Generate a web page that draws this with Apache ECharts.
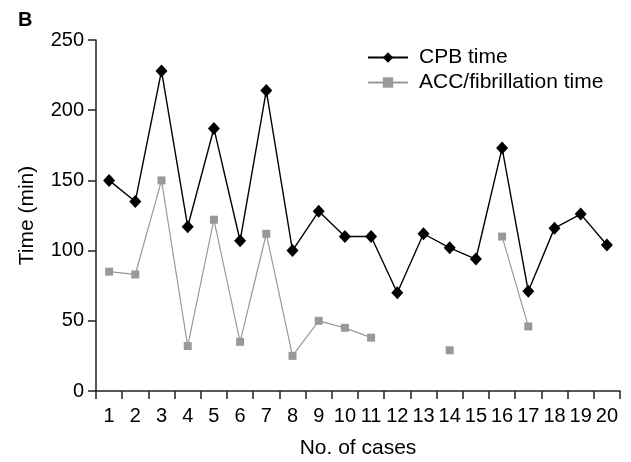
<!DOCTYPE html>
<html><head><meta charset="utf-8">
<script src="https://cdn.jsdelivr.net/npm/echarts@6/dist/echarts.min.js"></script>
<style>html,body{margin:0;padding:0;background:#fff}#c{width:631px;height:462px}</style>
</head><body><div id="c"></div>
<script>
const categories = ['1','2','3','4','5','6','7','8','9','10','11','12','13','14','15','16','17','18','19','20'];
const cpbTime = [150,135,228,117,187,107,214,100,128,110,110,70,112,102,94,173,71,116,126,104];
const accTime = [85,83,150,32,122,35,112,25,50,45,38,null,null,29,null,110,46,null,null,null];
const yTicks = {min:0, max:250, interval:50};

const FONT = 'Liberation Sans, Arial, Helvetica, sans-serif';
const chart = echarts.init(document.getElementById('c'), null, {renderer:'canvas'});
chart.setOption({
  animation:false,
  backgroundColor:'#fff',
  textStyle:{fontFamily:FONT},
  title:{text:'B', left:13, top:5, textStyle:{fontFamily:FONT, fontSize:20, fontWeight:'bold', color:'#000'}},
  grid:{left:96, right:11, top:40, bottom:71, containLabel:false, outerBoundsMode:'none'},
  legend:{
    orient:'vertical', left:362, top:42, itemWidth:40, itemHeight:13, itemGap:4,
    textStyle:{fontFamily:FONT, fontSize:21, color:'#000', padding:[0,0,0,6]},
    data:['CPB time','ACC/fibrillation time']
  },
  xAxis:{
    type:'category', data:categories, boundaryGap:true,
    name:'No. of cases', nameLocation:'middle', nameGap:47,
    nameTextStyle:{fontFamily:FONT, fontSize:21, color:'#000'},
    axisLine:{lineStyle:{color:'#222', width:1.5}},
    axisTick:{show:true, length:8, inside:false, alignWithLabel:false, lineStyle:{color:'#222', width:1.5}},
    axisLabel:{fontFamily:FONT, fontSize:20, color:'#000', margin:15, interval:0}
  },
  yAxis:{
    type:'value', min:yTicks.min, max:yTicks.max, interval:yTicks.interval,
    name:'Time (min)', nameLocation:'middle', nameGap:58, nameRotate:90,
    nameTextStyle:{fontFamily:FONT, fontSize:21, color:'#000'},
    axisLine:{show:true, lineStyle:{color:'#222', width:1.5}},
    axisTick:{show:true, length:8, lineStyle:{color:'#222', width:1.5}},
    splitLine:{show:false},
    axisLabel:{fontFamily:FONT, fontSize:20, color:'#000', margin:12}
  },
  series:[
    {name:'CPB time', type:'line', data:cpbTime, symbol:'diamond', symbolSize:[12,13],
     lineStyle:{color:'#000', width:1.4}, itemStyle:{color:'#000'}, z:3},
    {name:'ACC/fibrillation time', type:'line', data:accTime, symbol:'rect', symbolSize:8,
     connectNulls:false,
     lineStyle:{color:'#999', width:1.2}, itemStyle:{color:'#999'}, z:2}
  ]
});
</script></body></html>
